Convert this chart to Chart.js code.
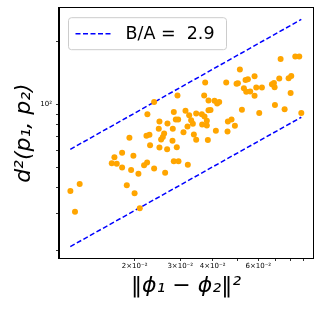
<!DOCTYPE html>
<html><head><meta charset="utf-8">
<script src="https://cdn.jsdelivr.net/npm/chart.js@4"></script>
<style>html,body{margin:0;padding:0;background:#fff;overflow:hidden}</style>
</head><body>
<canvas id="c" width="319" height="310"></canvas>
<script>
// ---- data ----
const pointX = [0.01131,0.01228,0.01178,0.01633,0.01672,0.01707,0.01790,0.01790,0.01910,0.01866,
  0.01939,0.01979,0.02000,0.02069,0.02094,0.02176,0.02241,0.02222,0.02282,0.02235,
  0.02295,0.02379,0.02379,0.02494,0.02479,0.02531,0.02570,0.02494,0.02600,0.02623,
  0.02670,0.02678,0.02800,0.02808,0.02833,0.02833,0.02884,0.02927,0.02909,0.02953,
  0.02945,0.03087,0.03143,0.03199,0.03209,0.03247,0.03305,0.03355,0.03385,0.03456,
  0.03456,0.03634,0.03645,0.03710,0.03743,0.03721,0.03799,0.03799,0.03833,0.03856,
  0.03856,0.03925,0.04067,0.04116,0.04165,0.04240,0.04512,0.04565,0.04579,0.04731,
  0.04874,0.04946,0.05005,0.05095,0.05187,0.05279,0.05358,0.05390,0.05470,0.05585,
  0.05804,0.05804,0.05891,0.06050,0.06195,0.06772,0.06893,0.06934,0.06955,0.07227,
  0.07314,0.07579,0.07852,0.07994,0.08041,0.08332,0.08633,0.08789];
const pointY = [38.5,41.6,30.6,52.3,55.9,52.0,58.8,49.9,69.4,41.0,
  48.5,56.9,37.5,46.6,31.8,51.2,89.9,70.9,71.7,52.7,
  63.8,102.9,49.4,83.0,76.6,68.1,69.9,62.2,72.7,47.1,
  61.0,81.2,67.1,76.6,92.2,53.5,84.8,110.7,62.4,53.5,
  84.8,73.6,93.6,78.5,51.4,88.9,84.2,80.9,71.9,67.9,
  90.6,89.9,80.3,110.7,127.7,87.6,83.6,79.4,67.6,104.8,
  93.9,94.3,104.4,74.9,101.4,102.9,127.7,74.3,83.0,84.8,
  79.1,125.9,126.8,147.7,94.6,120.0,131.5,115.3,132.4,115.7,
  136.9,110.3,120.9,91.2,120.9,125.4,127.2,121.3,99.6,133.4,
  165.5,95.0,133.9,113.6,137.4,170.5,170.5,91.2];
const lineX = [0.01130, 0.08789];
const upperY = [61.0, 256.7];
const lowerY = [20.8, 87.0];
const legendLabel = 'B/A =  2.9';
const xTicks = [0.02,0.03,0.04,0.05,0.06,0.07,0.08,0.09];
const xTickLabels = ['2×10⁻²','3×10⁻²','4×10⁻²','','6×10⁻²','','',''];
const yTicks = [20,30,40,50,60,70,80,90,100,200];
const yTickLabels = ['','','','','','','','','10²',''];
const xRange = [0.010221, 0.09752];
const yRange = [18.34, 290.6];
const xTitle = '‖ϕ₁ − ϕ₂‖²';
const yTitle = 'd²(p₁, p₂)';

const FONT = '"DejaVu Sans", sans-serif';

const framePlugin = {
  id: 'frame',
  afterDraw(chart) {
    const {ctx, chartArea: a} = chart;
    ctx.save();
    ctx.strokeStyle = '#000';
    ctx.lineWidth = 1;
    ctx.strokeRect(Math.round(a.left) - 0.5, Math.round(a.top) - 0.5,
      Math.round(a.right - a.left) + 1, Math.round(a.bottom - a.top) + 1);
    // legend box
    const bx = a.left + 9.5, by = a.top + 9.5, bw = 158, bh = 32;
    ctx.beginPath();
    if (ctx.roundRect) ctx.roundRect(bx, by, bw, bh, 3); else ctx.rect(bx, by, bw, bh);
    ctx.fillStyle = 'rgba(255,255,255,0.8)';
    ctx.fill();
    ctx.strokeStyle = '#cccccc';
    ctx.lineWidth = 1;
    ctx.stroke();
    const ds = chart.data.datasets[1];
    const ly = by + bh / 2;
    ctx.beginPath();
    ctx.setLineDash(ds.borderDash);
    ctx.strokeStyle = ds.borderColor;
    ctx.lineWidth = ds.borderWidth;
    ctx.moveTo(bx + 7, ly);
    ctx.lineTo(bx + 43, ly);
    ctx.stroke();
    ctx.setLineDash([]);
    ctx.fillStyle = '#000';
    ctx.font = '17.5px ' + FONT;
    ctx.textBaseline = 'middle';
    ctx.textAlign = 'left';
    ctx.fillText(ds.label, bx + 57, ly + 0.5);
    ctx.restore();
  }
};

new Chart(document.getElementById('c'), {
  type: 'scatter',
  data: {
    datasets: [
      {
        label: 'points',
        data: pointX.map((x, i) => ({x, y: pointY[i]})),
        backgroundColor: '#FFA500',
        borderColor: '#FFA500',
        pointRadius: 3,
        pointBorderWidth: 0,
        order: 0
      },
      {
        label: legendLabel,
        data: lineX.map((x, i) => ({x, y: upperY[i]})),
        showLine: true,
        borderColor: '#0000FF',
        borderWidth: 1.5,
        borderDash: [5, 2.5],
        pointRadius: 0,
        order: 1
      },
      {
        label: '',
        data: lineX.map((x, i) => ({x, y: lowerY[i]})),
        showLine: true,
        borderColor: '#0000FF',
        borderWidth: 1.5,
        borderDash: [5, 2.5],
        pointRadius: 0,
        order: 1
      }
    ]
  },
  options: {
    responsive: false,
    devicePixelRatio: 1,
    animation: false,
    events: [],
    layout: {padding: {top: 6, right: 6, left: 0, bottom: 0}},
    plugins: {legend: {display: false}, tooltip: {enabled: false}},
    scales: {
      x: {
        type: 'logarithmic',
        min: xRange[0], max: xRange[1],
        afterBuildTicks: s => { s.ticks = xTicks.map(v => ({value: v})); },
        afterFit: s => { s.height = 52; },
        grid: {display: true, drawOnChartArea: false, drawTicks: true, tickLength: 3, tickColor: '#000', tickWidth: 0.8},
        border: {display: true, color: '#000', width: 1},
        ticks: {
          autoSkip: false, maxRotation: 0, minRotation: 0, padding: 1,
          color: '#000', font: {family: FONT, size: 7},
          callback: (v, i) => xTickLabels[i]
        },
        title: {display: true, text: xTitle, color: '#000', font: {family: FONT, size: 22, style: 'italic'}, padding: {top: 0, bottom: 11}}
      },
      y: {
        type: 'logarithmic',
        min: yRange[0], max: yRange[1],
        afterBuildTicks: s => { s.ticks = yTicks.map(v => ({value: v})); },
        afterFit: s => { s.width = 59; },
        grid: {display: true, drawOnChartArea: false, drawTicks: true, tickLength: 3, tickColor: '#000', tickWidth: 0.8},
        border: {display: true, color: '#000', width: 1},
        ticks: {
          autoSkip: false, padding: 4,
          color: '#000', font: {family: FONT, size: 7},
          callback: (v, i) => yTickLabels[i]
        },
        title: {display: true, text: yTitle, color: '#000', font: {family: FONT, size: 22, style: 'italic'}, padding: {top: 11, bottom: 0}}
      }
    }
  },
  plugins: [framePlugin]
});
</script>
</body></html>
